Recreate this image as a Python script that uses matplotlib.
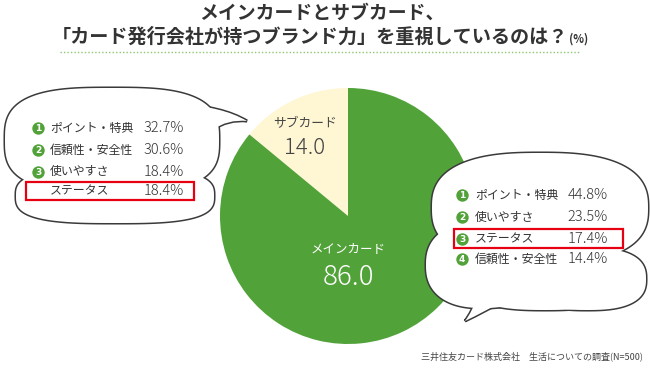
import numpy as np
import matplotlib.pyplot as plt
from matplotlib.patches import Polygon, PathPatch, Rectangle
from matplotlib.path import Path

plt.rcParams['font.family'] = ['Noto Sans CJK JP', 'DejaVu Sans']

title_1 = 'メインカードとサブカード、'
title_2 = '「カード発行会社が持つブランド力」を重視しているのは？'
unit = '(%)'
source = '三井住友カード株式会社　生活についての調査(N=500)'

pie_labels = ['サブカード', 'メインカード']
pie_values = [14.0, 86.0]

sub_items = ['ポイント・特典', '信頼性・安全性', '使いやすさ', 'ステータス']
sub_values = [32.7, 30.6, 18.4, 18.4]
sub_ranks = ['1', '2', '3', '']

main_items = ['ポイント・特典', '使いやすさ', 'ステータス', '信頼性・安全性']
main_values = [44.8, 23.5, 17.4, 14.4]
main_ranks = ['1', '2', '3', '4']

GREEN = '#52a23a'
CREAM = '#fff6d4'
TEXT = '#333333'
RED = '#e60012'


def blob(cx, cy, a, b, n=2.6, k=180):
    t = np.linspace(0, 2 * np.pi, k, endpoint=False)
    c, s = np.cos(t), np.sin(t)
    x = cx + a * np.sign(c) * np.abs(c) ** (2 / n)
    y = cy + b * np.sign(s) * np.abs(s) ** (2 / n)
    return np.column_stack([x, y])


def bubble(ax, lobes, tail):
    # outline of every piece first, then white fills on top -> only the union's edge stays
    codes = [Path.MOVETO, Path.CURVE3, Path.CURVE3, Path.CURVE3, Path.CURVE3, Path.CLOSEPOLY]
    for z, ec in [(3, '#3a3a3a'), (4, 'none')]:
        for lobe in lobes:
            ax.add_patch(Polygon(blob(*lobe), closed=True, fc='white', ec=ec,
                                 lw=2.2, zorder=z))
        ax.add_patch(PathPatch(Path(tail, codes), fc='white', ec=ec, lw=2.2, zorder=z))


def rows(ax, ranks, items, values, x_rank, x_label, x_val, ys):
    for r, it, v, y in zip(ranks, items, values, ys):
        if r:
            ax.scatter([x_rank], [y], s=80, color=GREEN, zorder=6, linewidths=0)
            ax.text(x_rank, y + 0.3, r, color='white', fontsize=6.5, fontweight='bold',
                    ha='center', va='center', zorder=7, family='DejaVu Sans')
        ax.text(x_label, y, it, color=TEXT, fontsize=8.6, ha='left', va='center', zorder=6)
        ax.text(x_val, y, f'{v:.1f}%', color=TEXT, fontsize=10.5, ha='right', va='center',
                zorder=6, fontweight='light')


fig = plt.figure(figsize=(6.5, 3.75), dpi=100)
ax = fig.add_axes([0, 0, 1, 1])

# pie
ax.pie(pie_values, radius=128, center=(348, 216), startangle=-90, counterclock=False,
       colors=[CREAM, GREEN], wedgeprops=dict(linewidth=0), frame=False)
ax.text(305, 124, pie_labels[0], color='#444444', fontsize=9.2, ha='center', va='center')
ax.text(305, 148, f'{pie_values[0]:.1f}', color='#444444', fontsize=16, ha='center',
        va='center', fontweight='light')
ax.text(348, 250, pie_labels[1], color='white', fontsize=9, ha='center', va='center')
ax.text(349, 277, f'{pie_values[1]:.1f}', color='white', fontsize=20, ha='center',
        va='center', fontweight='light')

# speech bubbles
bubble(ax, [(112, 140, 107, 52, 3), (115, 196, 99, 27, 3)],
       [(176, 104), (222, 106), (247, 121), (228, 119), (212, 130), (176, 104)])
bubble(ax, [(540, 208, 108, 55), (483, 265, 57, 43, 2.4), (587, 279, 59, 31),
            (545, 284, 75, 26)],
       [(478, 296), (472, 312), (465, 321), (484, 312), (505, 300), (478, 296)])

rows(ax, sub_ranks, sub_items, sub_values, 38, 50, 184, [128, 150, 172, 191])
rows(ax, main_ranks, main_items, main_values, 462, 475, 608, [195, 217, 239, 259])
ax.add_patch(Rectangle((26, 182), 168, 18, fc='none', ec=RED, lw=1.6, zorder=8))
ax.add_patch(Rectangle((454, 229), 169, 19, fc='none', ec=RED, lw=1.6, zorder=8))

# titles
ax.text(322, 13, title_1, color=TEXT, fontsize=13.6, fontweight='bold', ha='center', va='center')
ax.text(568, 37, title_2, color=TEXT, fontsize=13.8, fontweight='bold', ha='right', va='center')
ax.text(569, 39, unit, color=TEXT, fontsize=8, fontweight='bold', ha='left', va='center')
ax.plot([60, 580], [52, 52], color='#8cc870', lw=1, ls=(0, (1, 1.5)))

ax.text(643, 356, source, color='#444444', fontsize=6.5, ha='right', va='center')

ax.set_xlim(0, 650)
ax.set_ylim(375, 0)
ax.set_aspect('auto')
ax.axis('off')

fig.savefig('out.png', dpi=100)
